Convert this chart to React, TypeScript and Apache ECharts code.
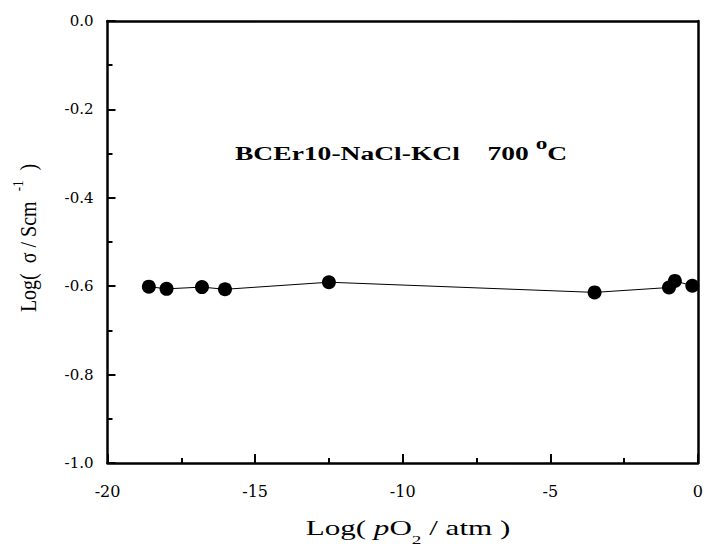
import React, { useEffect, useRef } from "react";
import * as echarts from "echarts";

const logPO2 = [-18.6, -18.0, -16.8, -16.02, -12.5, -3.5, -0.98, -0.78, -0.19];
const logSigma = [-0.601, -0.606, -0.602, -0.607, -0.591, -0.614, -0.603, -0.588, -0.599];
const annotation = "BCEr10-NaCl-KCl    700 ";

const FONT = "Liberation Serif";
const TICK_FONT = "DejaVu Serif";

export default function App() {
  const ref = useRef<HTMLDivElement>(null);
  useEffect(() => {
    if (!ref.current) return;
    const chart = echarts.init(ref.current, null, { renderer: "svg" });
    const data = logPO2.map((x, i) => [x, logSigma[i]]);
    const axisLine = { show: true, onZero: false, lineStyle: { color: "#000", width: 2.5 } };
    chart.setOption({
      animation: false,
      backgroundColor: "#fff",
      textStyle: { fontFamily: FONT },
      grid: { left: 107.5, top: 21, width: 595, height: 442, containLabel: false },
      xAxis: [
        {
          type: "value",
          min: -20,
          max: 0,
          interval: 5,
          position: "bottom",
          axisLine,
          axisTick: { show: true, inside: true, length: 9, lineStyle: { color: "#000", width: 2 } },
          minorTick: { show: true, splitNumber: 2, length: 5, lineStyle: { color: "#000", width: 2 } },
          splitLine: { show: false },
          minorSplitLine: { show: false },
          axisLabel: { color: "#000", fontSize: 16, fontFamily: TICK_FONT, margin: 20 },
        },
        {
          type: "value",
          min: -20,
          max: 0,
          position: "top",
          axisLine,
          axisTick: { show: false },
          axisLabel: { show: false },
          splitLine: { show: false },
        },
      ],
      yAxis: [
        {
          type: "value",
          min: -1,
          max: 0,
          interval: 0.2,
          position: "left",
          axisLine,
          axisTick: { show: true, inside: true, length: 8, lineStyle: { color: "#000", width: 2 } },
          minorTick: { show: true, splitNumber: 2, length: 5, lineStyle: { color: "#000", width: 2 } },
          splitLine: { show: false },
          minorSplitLine: { show: false },
          axisLabel: {
            color: "#000",
            fontSize: 15,
            fontFamily: TICK_FONT,
            margin: 14,
            formatter: (v: number) => v.toFixed(1),
          },
        },
        {
          type: "value",
          min: -1,
          max: 0,
          position: "right",
          z: 10,
          axisLine,
          axisTick: { show: false },
          axisLabel: { show: false },
          splitLine: { show: false },
        },
      ],
      series: [
        {
          type: "line",
          data,
          symbol: "circle",
          symbolSize: 14,
          itemStyle: { color: "#000" },
          lineStyle: { color: "#000", width: 1 },
          clip: false,
        },
      ],
      graphic: [
        {
          type: "rect",
          shape: { x: 703.8, y: 0, width: 10, height: 548 },
          style: { fill: "#fff" },
          z: 5,
        },
        {
          type: "text",
          x: 235,
          y: 163,
          scaleX: 1.45,
          style: {
            text: "{b|" + annotation + "}{s|o}{b|C}",
            verticalAlign: "bottom",
            rich: {
              b: { fontSize: 19, fontWeight: "bold", fontFamily: FONT, fill: "#000", lineHeight: 28, verticalAlign: "bottom" },
              s: { fontSize: 16, fontWeight: "bold", fontFamily: FONT, fill: "#000", lineHeight: 16, verticalAlign: "top" },
            },
          },
        },
        {
          type: "text",
          x: 408,
          y: 528,
          scaleX: 1.48,
          style: {
            text: "{a|Log( }{i|p}{a|O}{sub|2}{a| / atm )}",
            align: "center",
            verticalAlign: "middle",
            rich: {
              a: { fontSize: 21, fontFamily: FONT, fill: "#000", lineHeight: 36, verticalAlign: "middle" },
              i: { fontSize: 21, fontFamily: FONT, fontStyle: "italic", fill: "#000", lineHeight: 36, verticalAlign: "middle" },
              sub: { fontSize: 13, fontFamily: FONT, fill: "#000", lineHeight: 14, verticalAlign: "bottom" },
            },
          },
        },
        {
          type: "text",
          x: 28,
          y: 238,
          rotation: Math.PI / 2,
          scaleY: 1.2,
          style: {
            text: "{a|Log(  σ / Scm  }{s|-1}{a|  )}",
            align: "center",
            verticalAlign: "middle",
            rich: {
              a: { fontSize: 20, fontFamily: FONT, fill: "#000", lineHeight: 30, verticalAlign: "middle" },
              s: { fontSize: 13, fontFamily: FONT, fill: "#000", lineHeight: 13, verticalAlign: "top" },
            },
          },
        },
      ],
    });
    return () => chart.dispose();
  }, []);
  return (
    <div
      ref={ref}
      style={{ position: "fixed", left: 0, top: 0, width: 706, height: 548, background: "#fff" }}
    />
  );
}
